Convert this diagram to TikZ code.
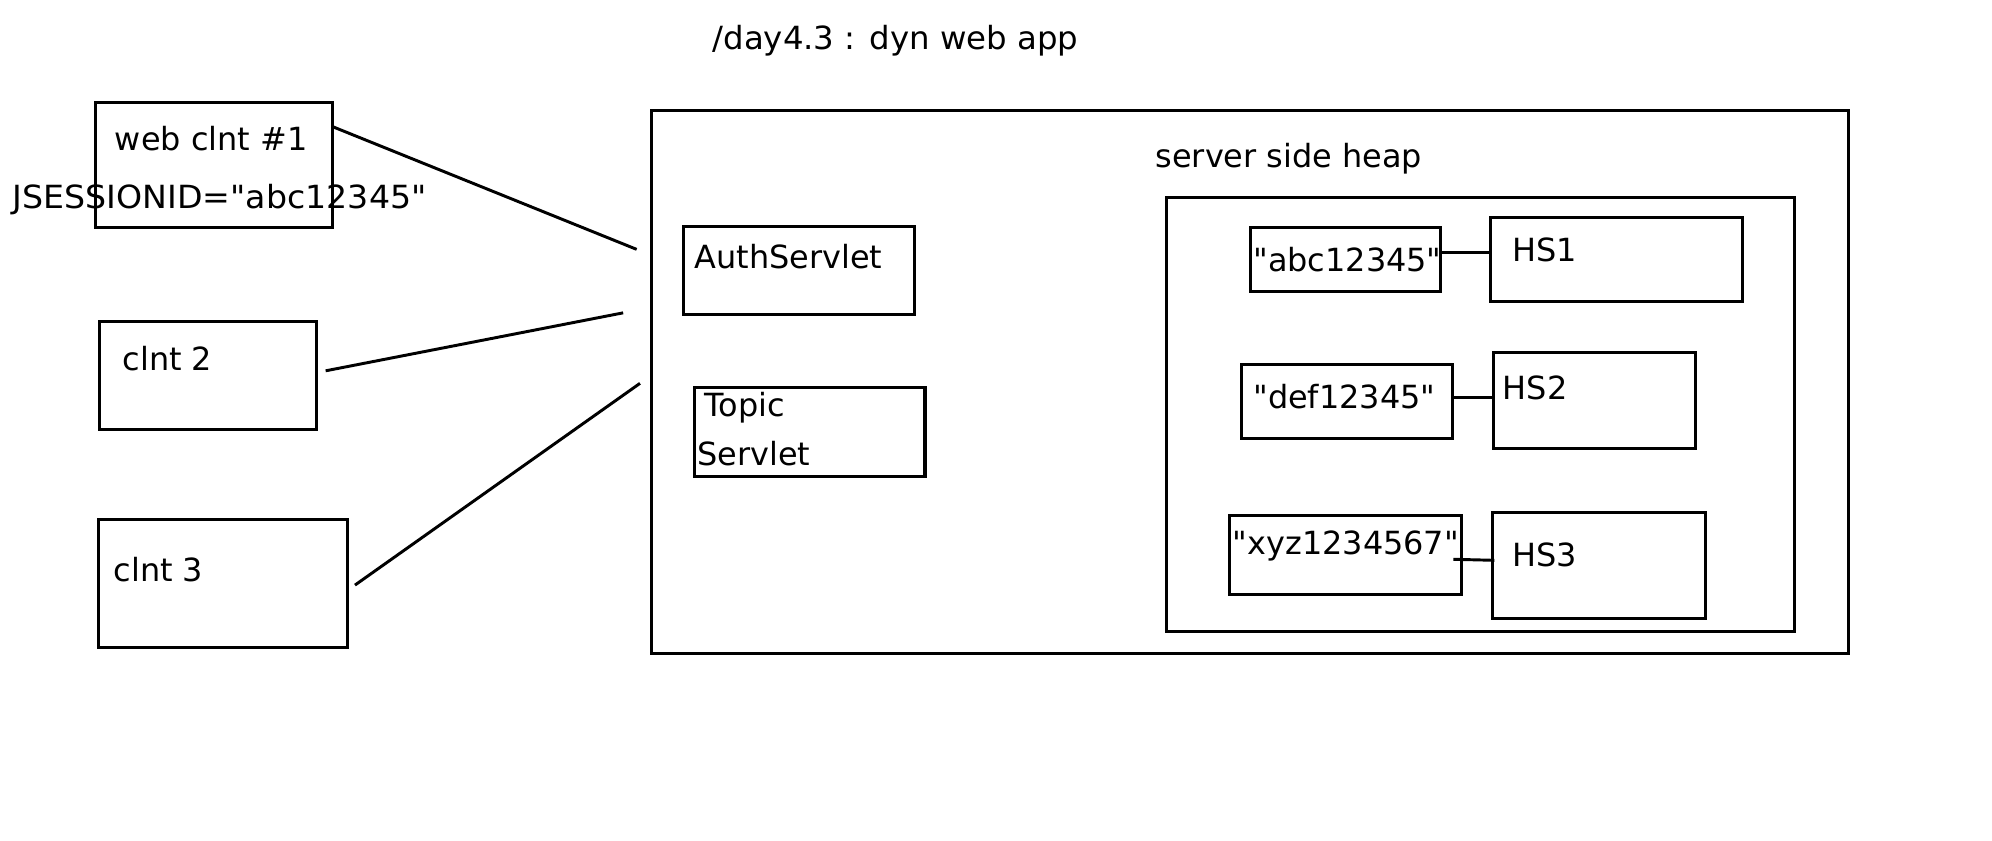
\documentclass[tikz,border=0pt]{standalone}
\usepackage{fontspec}
\newfontfamily\dv{DejaVu Sans}
\begin{document}
\begin{tikzpicture}[x=1pt,y=-1pt,
  box/.style={draw=black,line width=2.4pt,rectangle,inner sep=0pt,outer sep=0pt,anchor=north west},
  txt/.style={inner sep=0pt,outer sep=0pt,anchor=base west,font=\dv\fontsize{25}{30}\selectfont},
  conn/.style={draw=black,line width=2.3pt}]
\useasboundingbox[fill=white] (0,0) rectangle (1560,658);
% boxes
\node[box,minimum width=185.5pt,minimum height=98pt] (c1) at (75,80) {};
\node[box,minimum width=170pt,minimum height=84pt] (c2) at (78,252) {};
\node[box,minimum width=195pt,minimum height=100pt] (c3) at (77,407) {};
\node[box,minimum width=937.4pt,minimum height=425pt] (server) at (510,86.7) {};
\node[box,minimum width=181pt,minimum height=68.7pt] (auth) at (535,177.5) {};
\node[box,minimum width=180.6pt,minimum height=70pt] (topic) at (543.8,303.3) {};
\node[box,minimum width=491.5pt,minimum height=339.4pt] (heap) at (913.5,154.8) {};
\node[box,minimum width=148.8pt,minimum height=50.4pt] (abc) at (979.5,177.8) {};
\node[box,minimum width=197.6pt,minimum height=66.1pt] (hs1) at (1166.9,170.2) {};
\node[box,minimum width=165.5pt,minimum height=58.2pt] (def) at (972.1,285.1) {};
\node[box,minimum width=158.5pt,minimum height=75.2pt] (hs2) at (1169.5,275.9) {};
\node[box,minimum width=181.7pt,minimum height=61.8pt] (xyz) at (962.5,403.6) {};
\node[box,minimum width=166.8pt,minimum height=82.8pt] (hs3) at (1168.7,401.2) {};
% texts
\node[txt,xscale=1.015,transform shape] (title) at (558,39) {/day4.3 : dyn web app};
\node[txt] (t1) at (90,118) {web clnt \#1};
\node[txt,xscale=1.04,transform shape] (jsid) at (10,163) {JSESSIONID="abc12345"};
\node[txt] (t2) at (96,290) {clnt 2};
\node[txt] (t3) at (89,455) {clnt 3};
\node[txt] (tauth) at (544,210.2) {AuthServlet};
\node[txt] (ttopic) at (552,326.3) {Topic};
\node[txt] (tserv) at (546,364.2) {Servlet};
\node[txt] (theap) at (905,131.3) {server side heap};
\node[txt] (tabc) at (981.5,212.8) {"abc12345"};
\node[txt] (ths1) at (1184.5,204.9) {HS1};
\node[txt] (tdef) at (981.5,319.8) {"def12345"};
\node[txt] (ths2) at (1177,312.5) {HS2};
\node[txt] (txyz) at (965.5,433.9) {"xyz1234567"};
\node[txt] (ths3) at (1184.5,443.3) {HS3};
% connector coordinates
\coordinate (y1) at (0,99.2);
\coordinate (e1) at (498.6,195.3);
\coordinate (s2) at (255,290.4);
\coordinate (e2) at (488,245);
\coordinate (s3) at (278,458.2);
\coordinate (e3) at (501.2,300.2);
\coordinate (ya) at (0,197.6);
\coordinate (yd) at (0,311.2);
\coordinate (x3s) at (1138.2,438);
\coordinate (x3e) at (1170.3,438.8);
% connectors
\draw[conn] (c1.east |- y1) -- (e1);
\draw[conn] (s2) -- (e2);
\draw[conn] (s3) -- (e3);
\draw[conn] (abc.east |- ya) -- (hs1.west |- ya);
\draw[conn] (def.east |- yd) -- (hs2.west |- yd);
\draw[conn] (x3s) -- (x3e);
\end{tikzpicture}
\end{document}
